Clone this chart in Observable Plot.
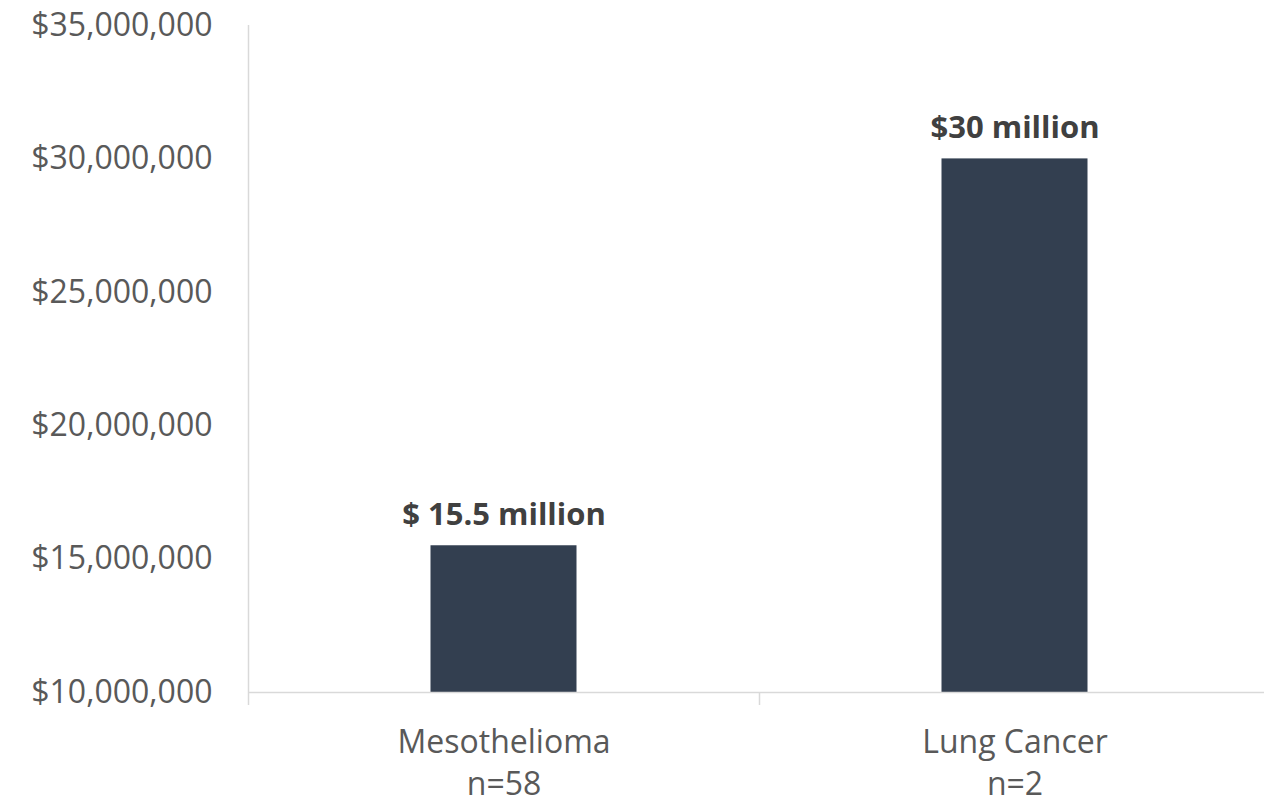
<!DOCTYPE html>
<html>
<head>
<meta charset="utf-8">
<script src="https://cdn.jsdelivr.net/npm/d3@7"></script>
<script src="https://cdn.jsdelivr.net/npm/@observablehq/plot@0.6"></script>
<style>
  html, body { margin: 0; padding: 0; background: #fff; }
  #chart svg { display: block; }
</style>
</head>
<body>
<div id="chart"></div>
<script>
const categories = ["Mesothelioma", "Lung Cancer"];
const sampleSizes = ["n=58", "n=2"];
const values = [15500000, 30000000];
const valueLabels = ["$ 15.5 million", "$30 million"];
const yTicks = [10000000, 15000000, 20000000, 25000000, 30000000, 35000000];

const data = categories.map((c, i) => ({category: c, n: sampleSizes[i], value: values[i], label: valueLabels[i]}));
const W = 1264, H = 803;
const left = 248;
const step = (1270 - left) / categories.length;
const barWidth = 146;
const inset = (step - barWidth) / 2;

const chart = Plot.plot({
  width: W,
  height: H,
  marginLeft: left,
  marginRight: 0,
  marginTop: 25,
  marginBottom: H - 692,
  style: {fontFamily: "'Open Sans', sans-serif", background: "#fff", overflow: "visible"},
  x: {domain: categories, range: [left, 1270], padding: 0},
  y: {domain: [10000000, 35000000], range: [692, 25]},
  marks: [
    Plot.barY(data, {x: "category", y1: 10000000, y2: "value", fill: "#333f50", insetLeft: inset, insetRight: inset}),
    Plot.ruleY([10000000], {stroke: "#d9d9d9", strokeWidth: 1.5}),
    Plot.ruleX([categories[0]], {x: d => d, dx: -step / 2, y1: 35000000, y2: 10000000, insetBottom: -13, stroke: "#d9d9d9", strokeWidth: 1.5}),
    Plot.ruleX([categories[1]], {x: d => d, dx: -step / 2, y1: 10000000, y2: 10000000, insetBottom: -13, stroke: "#d9d9d9", strokeWidth: 1.5}),
    Plot.axisY({ticks: yTicks, tickSize: 0, tickPadding: 36, tickFormat: d => "$" + d3.format(",")(d), fontSize: 32, fill: "#595959", label: null}),
    Plot.axisX({tickSize: 0, tickPadding: 31, tickFormat: d => d + "\n" + sampleSizes[categories.indexOf(d)], fontSize: 32, lineHeight: 1.3, fill: "#595959", label: null}),
    Plot.text(data, {x: "category", y: "value", text: "label", lineAnchor: "bottom", dy: -21, fontSize: 31, fontWeight: "bold", fill: "#404040"})
  ]
});
document.getElementById("chart").append(chart);
</script>
</body>
</html>
